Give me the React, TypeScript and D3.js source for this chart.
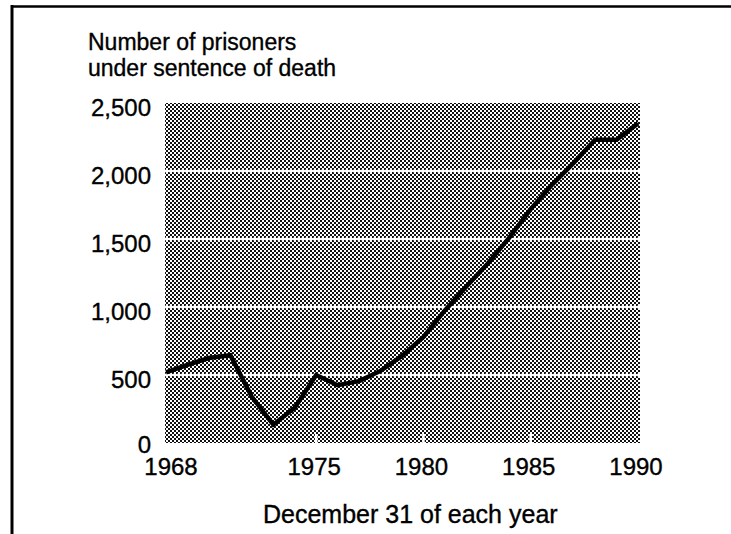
import React from "react";
import * as d3 from "d3";

const years = [1968, 1969, 1970, 1971, 1972, 1973, 1974, 1975, 1976, 1977, 1978, 1979, 1980, 1981, 1982, 1983, 1984, 1985, 1986, 1987, 1988, 1989, 1990];
const prisoners = [520, 575, 625, 645, 340, 135, 260, 500, 425, 455, 530, 640, 780, 975, 1150, 1320, 1510, 1720, 1900, 2060, 2230, 2230, 2350];
const yTicks = [0, 500, 1000, 1500, 2000, 2500];
const yTickLabels = ["0", "500", "1,000", "1,500", "2,000", "2,500"];
const xTicks = [1968, 1975, 1980, 1985, 1990];
const gridValues = [500, 1000, 1500, 2000];
const tickMarkYears = [1975, 1980, 1985];
const titleLines = ["Number of prisoners", "under sentence of death"];
const xTitle = "December 31 of each year";

const W = 731;
const H = 534;
const plot = { left: 165, right: 640, top: 103, bottom: 443 };

export default function App() {
  const x = d3.scaleLinear().domain([1968, 1990]).range([166, 638]);
  const y = d3.scaleLinear().domain([0, 2500]).range([plot.bottom, plot.top]);
  const data = years.map((yr, i) => ({ yr, v: prisoners[i] }));
  const line = d3
    .line<{ yr: number; v: number }>()
    .x((d) => x(d.yr))
    .y((d) => y(d.v));
  const font = "'Liberation Sans', Arial, Helvetica, sans-serif";
  const textStroke = { stroke: "#000", strokeWidth: 0.35 };

  return (
    <svg
      width={W}
      height={H}
      viewBox={`0 0 ${W} ${H}`}
      style={{ position: "absolute", left: 0, top: 0, background: "#fff" }}
    >
      <defs>
        <pattern id="halftone" width={4} height={4} patternUnits="userSpaceOnUse">
          <rect x={0} y={0} width={4} height={4} fill="#fff" />
          <rect x={0} y={0} width={2} height={2} fill="#111" />
          <rect x={2} y={2} width={2} height={2} fill="#111" />
        </pattern>
      </defs>
      <rect x={0} y={0} width={W} height={H} fill="#fff" />
      {/* frame */}
      <line x1={11} x2={W} y1={6.5} y2={6.5} stroke="#000" strokeWidth={2.5} />
      <line x1={12} x2={12} y1={5} y2={H} stroke="#000" strokeWidth={3} />

      {/* title */}
      <text x={88} y={50} fontFamily={font} fontSize={23} fill="#000" {...textStroke}>
        {titleLines[0]}
      </text>
      <text x={88} y={76} fontFamily={font} fontSize={23} fill="#000" {...textStroke}>
        {titleLines[1]}
      </text>

      {/* plot area */}
      <rect
        x={plot.left}
        y={plot.top}
        width={plot.right - plot.left}
        height={plot.bottom - plot.top}
        fill="url(#halftone)"
      />
      {gridValues.map((g) => (
        <line
          key={g}
          x1={plot.left}
          x2={plot.right}
          y1={y(g)}
          y2={y(g)}
          stroke="#fff"
          strokeWidth={2.5}
          strokeDasharray="3 1"
        />
      ))}
      {tickMarkYears.map((t) => (
        <line
          key={t}
          x1={x(t)}
          x2={x(t)}
          y1={plot.bottom}
          y2={plot.bottom - 9}
          stroke="#fff"
          strokeWidth={2.5}
        />
      ))}
      <path
        d={line(data) || ""}
        fill="none"
        stroke="#000"
        strokeWidth={4.5}
        strokeLinejoin="miter"
      />

      {/* y axis labels */}
      {yTicks.map((t, i) => (
        <text
          key={t}
          x={151}
          y={y(t) + (t === 0 ? 10 : 13)}
          textAnchor="end"
          fontFamily={font}
          fontSize={24}
          fill="#000"
          {...textStroke}
        >
          {yTickLabels[i]}
        </text>
      ))}

      {/* x axis labels */}
      {xTicks.map((t) => (
        <text
          key={t}
          x={x(t) + (t === 1968 ? 5 : -2)}
          y={475}
          textAnchor="middle"
          fontFamily={font}
          fontSize={24}
          fill="#000"
          {...textStroke}
        >
          {t}
        </text>
      ))}

      <text x={263} y={523} fontFamily={font} fontSize={25} fill="#000" {...textStroke}>
        {xTitle}
      </text>
    </svg>
  );
}
